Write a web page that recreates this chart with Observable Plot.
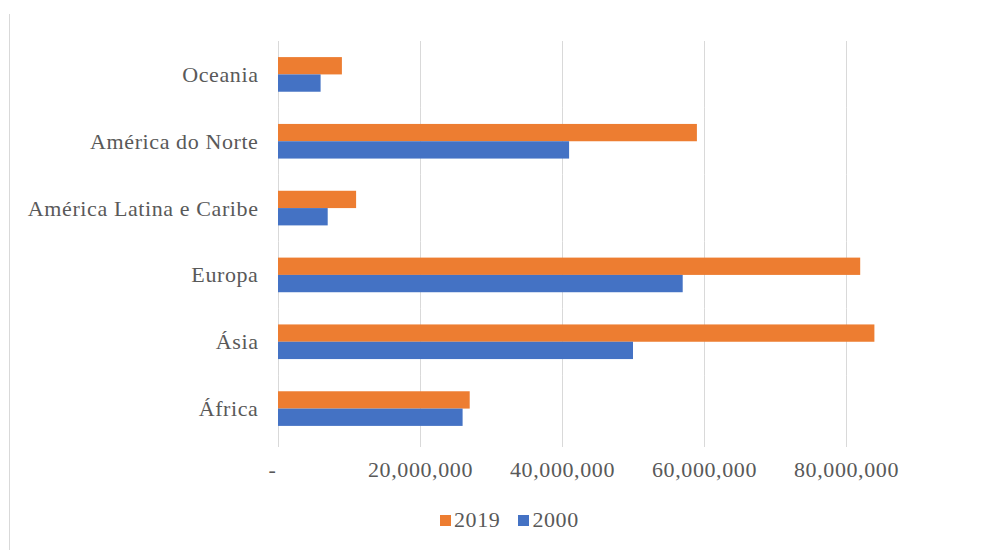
<!DOCTYPE html>
<html>
<head>
<meta charset="utf-8">
<script src="https://cdn.jsdelivr.net/npm/d3@7"></script>
<script src="https://cdn.jsdelivr.net/npm/@observablehq/plot@0.6"></script>
<style>
  html, body { margin: 0; padding: 0; background: #fff; }
  #wrap { position: relative; width: 989px; height: 550px; overflow: hidden; background: #fff; }
  #edge { position: absolute; left: 9px; top: 14px; width: 1px; height: 540px; background: #d9d9d9; }
  #chart { position: absolute; left: 0; top: 0; }
  #chart svg text { letter-spacing: 0.6px; }
  #legend { position: absolute; left: 440px; top: 507px; font-family: "Liberation Serif", serif; font-size: 22px; color: #595959; display: flex; align-items: center; letter-spacing: 0.6px; }
  #legend .sw { display: inline-block; width: 11px; height: 11px; margin-right: 3px; }
  #legend .item { display: flex; align-items: center; margin-right: 18px; }
</style>
</head>
<body>
<div id="wrap">
  <div id="edge"></div>
  <div id="chart"></div>
  <div id="legend"></div>
</div>
<script>
const regions = ["Oceania", "América do Norte", "América Latina e Caribe", "Europa", "Ásia", "África"];
const values2019 = [9e6, 59e6, 11e6, 82e6, 84e6, 27e6];
const values2000 = [6e6, 41e6, 7e6, 57e6, 50e6, 26e6];
const years = ["2019", "2000"];
const xTicks = [0, 20e6, 40e6, 60e6, 80e6];
const colors = ["#ED7D31", "#4472C4"];

const data = regions.flatMap((r, i) => [
  {region: r, year: years[0], value: values2019[i]},
  {region: r, year: years[1], value: values2000[i]}
]);

const fmt = d3.format(",");
const chart = Plot.plot({
  width: 989,
  height: 495,
  marginTop: 41,
  marginBottom: 53,
  marginLeft: 278,
  marginRight: 72,
  style: {fontFamily: "'Liberation Serif', serif", fontSize: "22px", color: "#595959", background: "transparent"},
  x: {domain: [0, 90e6]},
  y: {domain: years, paddingInner: 0, paddingOuter: 0.93, round: false, axis: null},
  fy: {domain: regions, padding: 0, round: false},
  color: {domain: years, range: colors},
  marks: [
    Plot.ruleX(xTicks, {stroke: "#d9d9d9", strokeWidth: 1}),
    Plot.barX(data, {fy: "region", y: "year", x: "value", fill: "year"}),
    Plot.axisX({
      ticks: xTicks,
      tickFormat: d => d === 0 ? "-\u00a0\u00a0" : fmt(d),
      tickSize: 5,
      tickPadding: 14,
      stroke: "#d9d9d9",
      fill: "#595959",
      fontSize: 22,
      label: null
    }),
    Plot.axisFy({
      anchor: "left",
      tickSize: 0,
      tickPadding: 20,
      fill: "#595959",
      fontSize: 22,
      label: null
    })
  ]
});
document.getElementById("chart").appendChild(chart);

const legend = document.getElementById("legend");
years.forEach((y, i) => {
  const item = document.createElement("span");
  item.className = "item";
  const sw = document.createElement("span");
  sw.className = "sw";
  sw.style.background = colors[i];
  item.appendChild(sw);
  item.appendChild(document.createTextNode(y));
  legend.appendChild(item);
});
</script>
</body>
</html>
